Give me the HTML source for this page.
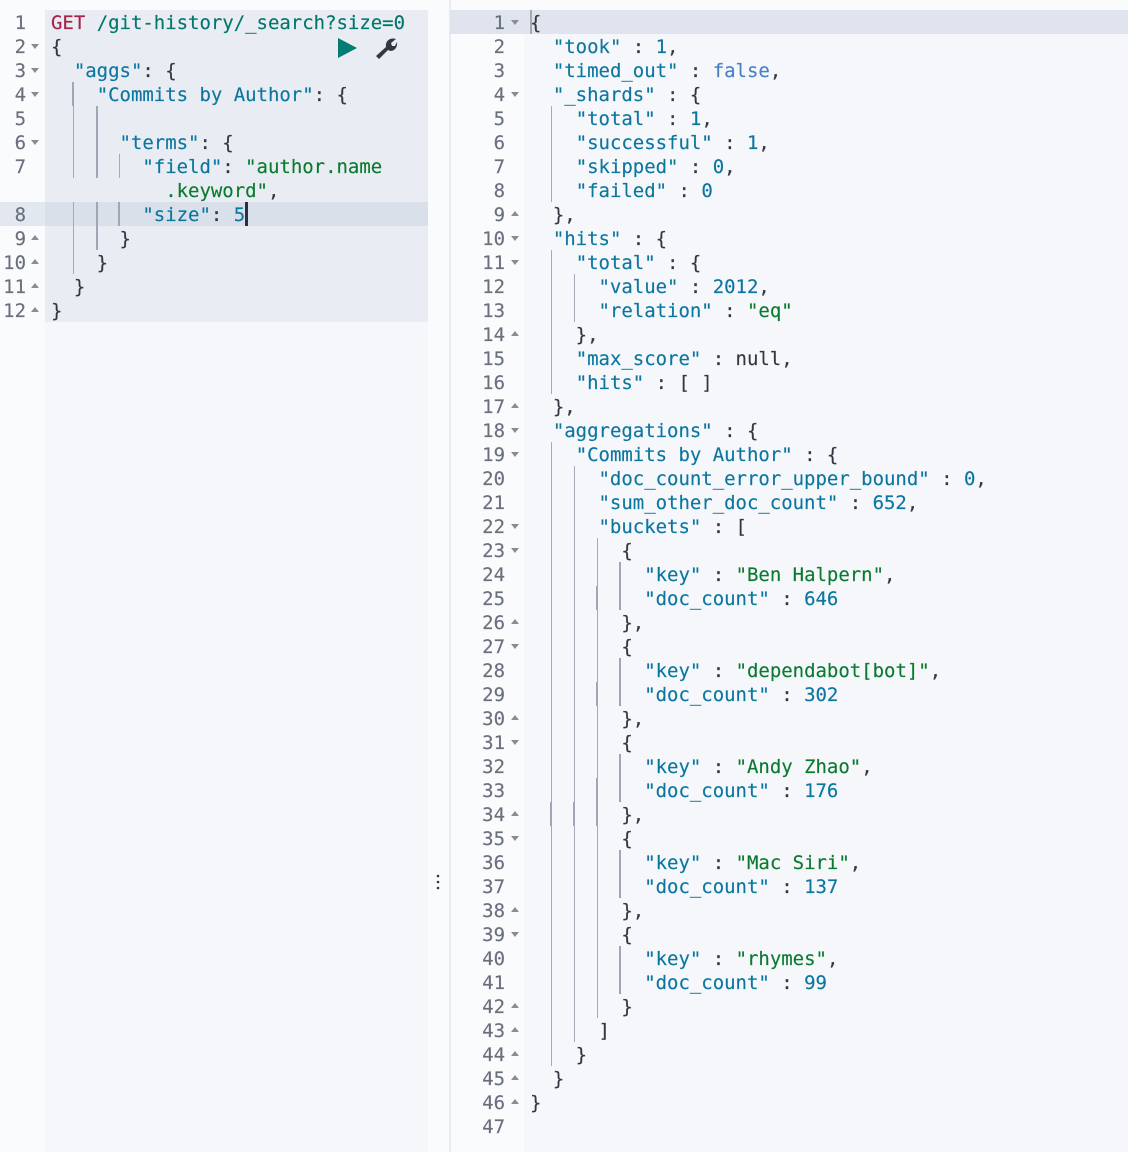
<!DOCTYPE html>
<html><head><meta charset="utf-8"><style>
html,body{margin:0;padding:0}
body{position:relative;width:1128px;height:1152px;overflow:hidden;background:#fafbfd}
div,pre,svg{position:absolute;margin:0}
pre{font:19px/24px "DejaVu Sans Mono","Liberation Mono",monospace;letter-spacing:-.02px;color:#343741;-webkit-text-stroke:.15px currentColor}
.g{color:#69707d;text-align:right}
.k{color:#0b76a0}.s{color:#0a7a2f}.n{color:#0b76a0}.b{color:#4a80c9}.m{color:#a3264a}.p{color:#00766c}
.l{width:1px;background:#a5aab6}.t{width:2px;background:#a0a6b5}
.u{width:0;height:0;border-left:4.5px solid transparent;border-right:4.5px solid transparent;border-bottom:5px solid #8b8b93}
.d{width:0;height:0;border-left:4.5px solid transparent;border-right:4.5px solid transparent;border-top:5px solid #8b8b93}
</style></head><body>
<div style="left:45px;top:10px;width:383px;height:1142px;background:#f5f7fb"></div>
<div style="left:45px;top:10px;width:383px;height:312px;background:#e9edf3"></div>
<div style="left:0;top:202px;width:45px;height:24px;background:#e3e7ef"></div>
<div style="left:45px;top:202px;width:383px;height:24px;background:#d9e0ea"></div>
<div style="left:449px;top:0;width:2px;height:1152px;background:#e9edf3"></div>
<div style="left:524px;top:10px;width:604px;height:1142px;background:#f5f7fb"></div>
<div style="left:450px;top:10px;width:678px;height:24px;background:#dfe4ee"></div>
<div style="left:530px;top:10px;width:2px;height:24px;background:#a9a9ad"></div>

<div class="t" style="left:72px;top:82px;height:24px"></div>
<div class="l" style="left:73px;top:106px;height:72px"></div>
<div class="l" style="left:73px;top:202px;height:72px"></div>
<div class="t" style="left:96px;top:106px;height:72px"></div>
<div class="t" style="left:96px;top:202px;height:48px"></div>
<div class="l" style="left:119px;top:154px;height:24px"></div>
<div class="t" style="left:118px;top:202px;height:24px"></div>
<div style="left:245px;top:202px;width:3px;height:24px;background:#2b2f3f"></div>

<div class="l" style="left:551px;top:106px;height:96px"></div>
<div class="l" style="left:551px;top:250px;height:144px"></div>
<div class="l" style="left:574px;top:274px;height:48px"></div>
<div class="l" style="left:551px;top:442px;height:624px"></div>
<div class="l" style="left:574px;top:466px;height:576px"></div>
<div class="l" style="left:597px;top:538px;height:480px"></div>
<div class="t" style="left:596px;top:586px;height:24px"></div>
<div class="t" style="left:596px;top:682px;height:24px"></div>
<div class="t" style="left:596px;top:778px;height:48px"></div>
<div class="t" style="left:550px;top:802px;height:24px"></div>
<div class="t" style="left:573px;top:802px;height:24px"></div>
<div class="t" style="left:619px;top:562px;height:48px"></div>
<div class="t" style="left:619px;top:658px;height:48px"></div>
<div class="t" style="left:619px;top:754px;height:48px"></div>
<div class="t" style="left:619px;top:850px;height:48px"></div>
<div class="t" style="left:619px;top:946px;height:48px"></div>

<pre class="g" style="left:0;top:11px;width:26px">1
2
3
4
5
6
7

8
9
10
11
12</pre>
<pre style="left:51px;top:11px"><span class="m">GET</span> <span class="p">/git-history/_search?size=0</span>
{
  <span class="k">"aggs"</span>: {
    <span class="k">"Commits by Author"</span>: {

      <span class="k">"terms"</span>: {
        <span class="k">"field"</span>: <span class="s">"author.name</span>
          <span class="s">.keyword"</span>,
        <span class="k">"size"</span>: <span class="n">5</span>
      }
    }
  }
}</pre>

<div class="d" style="left:31px;top:44px"></div>
<div class="d" style="left:31px;top:68px"></div>
<div class="d" style="left:31px;top:92px"></div>
<div class="d" style="left:31px;top:140px"></div>
<div class="u" style="left:31px;top:235px"></div>
<div class="u" style="left:31px;top:259px"></div>
<div class="u" style="left:31px;top:283px"></div>
<div class="u" style="left:31px;top:307px"></div>

<svg style="left:338px;top:38px" width="20" height="21"><polygon points="0,0 19,10 0,20" fill="#017d73"/></svg>
<svg style="left:374px;top:37px" width="24" height="24" viewBox="0 0 24 24"><path d="M2 19 L12 10 C11 4 16 0 22 2 L17 6 L18 9 L21 9 L23 5 C24 11 19 16 14 13 L5 22 Z" fill="#343741"/></svg>

<svg style="left:435px;top:874px" width="6" height="16"><circle cx="3" cy="2" r="1.3" fill="#343741"/><circle cx="3" cy="8" r="1.3" fill="#343741"/><circle cx="3" cy="14" r="1.3" fill="#343741"/></svg>

<pre class="g" style="left:451px;top:11px;width:54px">1
2
3
4
5
6
7
8
9
10
11
12
13
14
15
16
17
18
19
20
21
22
23
24
25
26
27
28
29
30
31
32
33
34
35
36
37
38
39
40
41
42
43
44
45
46
47</pre>

<div class="d" style="left:511px;top:20px"></div>
<div class="d" style="left:511px;top:92px"></div>
<div class="u" style="left:511px;top:211px"></div>
<div class="d" style="left:511px;top:236px"></div>
<div class="d" style="left:511px;top:260px"></div>
<div class="u" style="left:511px;top:331px"></div>
<div class="u" style="left:511px;top:403px"></div>
<div class="d" style="left:511px;top:428px"></div>
<div class="d" style="left:511px;top:452px"></div>
<div class="d" style="left:511px;top:524px"></div>
<div class="d" style="left:511px;top:548px"></div>
<div class="u" style="left:511px;top:619px"></div>
<div class="d" style="left:511px;top:644px"></div>
<div class="u" style="left:511px;top:715px"></div>
<div class="d" style="left:511px;top:740px"></div>
<div class="u" style="left:511px;top:811px"></div>
<div class="d" style="left:511px;top:836px"></div>
<div class="u" style="left:511px;top:907px"></div>
<div class="d" style="left:511px;top:932px"></div>
<div class="u" style="left:511px;top:1003px"></div>
<div class="u" style="left:511px;top:1027px"></div>
<div class="u" style="left:511px;top:1051px"></div>
<div class="u" style="left:511px;top:1075px"></div>
<div class="u" style="left:511px;top:1099px"></div>

<pre style="left:530px;top:11px">{
  <span class="k">"took"</span> : <span class="n">1</span>,
  <span class="k">"timed_out"</span> : <span class="b">false</span>,
  <span class="k">"_shards"</span> : {
    <span class="k">"total"</span> : <span class="n">1</span>,
    <span class="k">"successful"</span> : <span class="n">1</span>,
    <span class="k">"skipped"</span> : <span class="n">0</span>,
    <span class="k">"failed"</span> : <span class="n">0</span>
  },
  <span class="k">"hits"</span> : {
    <span class="k">"total"</span> : {
      <span class="k">"value"</span> : <span class="n">2012</span>,
      <span class="k">"relation"</span> : <span class="s">"eq"</span>
    },
    <span class="k">"max_score"</span> : null,
    <span class="k">"hits"</span> : [ ]
  },
  <span class="k">"aggregations"</span> : {
    <span class="k">"Commits by Author"</span> : {
      <span class="k">"doc_count_error_upper_bound"</span> : <span class="n">0</span>,
      <span class="k">"sum_other_doc_count"</span> : <span class="n">652</span>,
      <span class="k">"buckets"</span> : [
        {
          <span class="k">"key"</span> : <span class="s">"Ben Halpern"</span>,
          <span class="k">"doc_count"</span> : <span class="n">646</span>
        },
        {
          <span class="k">"key"</span> : <span class="s">"dependabot[bot]"</span>,
          <span class="k">"doc_count"</span> : <span class="n">302</span>
        },
        {
          <span class="k">"key"</span> : <span class="s">"Andy Zhao"</span>,
          <span class="k">"doc_count"</span> : <span class="n">176</span>
        },
        {
          <span class="k">"key"</span> : <span class="s">"Mac Siri"</span>,
          <span class="k">"doc_count"</span> : <span class="n">137</span>
        },
        {
          <span class="k">"key"</span> : <span class="s">"rhymes"</span>,
          <span class="k">"doc_count"</span> : <span class="n">99</span>
        }
      ]
    }
  }
}
</pre>
</body></html>
